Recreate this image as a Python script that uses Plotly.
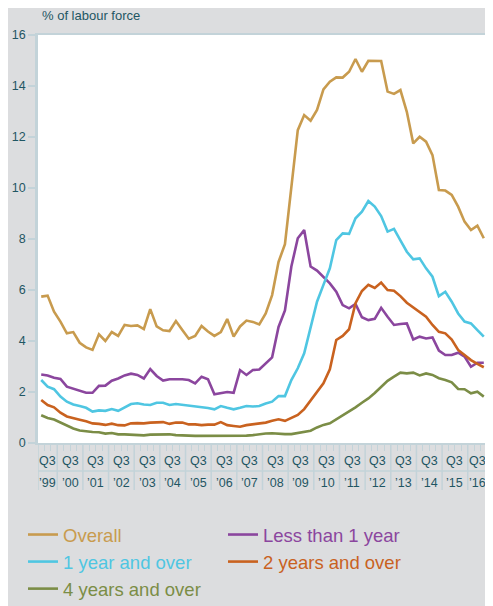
import plotly.graph_objects as go

# ---------------- data ----------------
all_q = [f"{y} Q{q}" for y in range(1999, 2017) for q in range(1, 5)]
quarters = all_q[all_q.index("1999 Q2"): all_q.index("2016 Q3") + 1]

overall = [5.74, 5.78, 5.15, 4.76, 4.30, 4.35, 3.93, 3.75, 3.65, 4.26,
           4.00, 4.35, 4.20, 4.63, 4.59, 4.61, 4.47, 5.25, 4.57, 4.42,
           4.39, 4.78, 4.43, 4.09, 4.20, 4.59, 4.37, 4.20, 4.35, 4.86,
           4.17, 4.57, 4.80, 4.75, 4.65, 5.08, 5.80, 7.10, 7.80, 10.1,
           12.27, 12.86, 12.64, 13.06, 13.87, 14.17, 14.34, 14.33, 14.56, 15.06,
           14.56, 14.99, 14.98, 14.98, 13.78, 13.69, 13.84, 12.99, 11.75, 12.01,
           11.82, 11.29, 9.92, 9.90, 9.73, 9.27, 8.68, 8.35, 8.52, 8.03]

less_than_1 = [2.69, 2.65, 2.56, 2.51, 2.21, 2.13, 2.05, 1.97, 1.97, 2.24,
               2.25, 2.44, 2.53, 2.65, 2.72, 2.67, 2.53, 2.90, 2.63, 2.45,
               2.50, 2.50, 2.50, 2.47, 2.34, 2.60, 2.50, 1.91, 1.97, 2.00,
               1.97, 2.86, 2.67, 2.86, 2.88, 3.12, 3.36, 4.55, 5.20, 6.92,
               8.03, 8.35, 6.92, 6.76, 6.52, 6.26, 5.93, 5.41, 5.28, 5.45,
               4.93, 4.82, 4.87, 5.30, 4.95, 4.63, 4.67, 4.69, 4.06, 4.17,
               4.10, 4.14, 3.62, 3.45, 3.45, 3.54, 3.39, 2.99, 3.15, 3.15]

one_year_plus = [2.47, 2.21, 2.11, 1.82, 1.62, 1.51, 1.45, 1.38, 1.23, 1.28,
                 1.26, 1.33, 1.26, 1.38, 1.53, 1.56, 1.51, 1.49, 1.58, 1.58,
                 1.49, 1.53, 1.50, 1.46, 1.43, 1.40, 1.37, 1.32, 1.45, 1.38,
                 1.32, 1.38, 1.45, 1.43, 1.45, 1.55, 1.62, 1.84, 1.84, 2.47,
                 2.93, 3.52, 4.56, 5.54, 6.20, 6.85, 7.96, 8.22, 8.20, 8.81,
                 9.07, 9.49, 9.27, 8.90, 8.29, 8.40, 7.95, 7.50, 7.20, 7.24,
                 6.85, 6.52, 5.76, 5.93, 5.54, 5.08, 4.76, 4.69, 4.43, 4.17]

two_years_plus = [1.69, 1.49, 1.40, 1.19, 1.04, 0.96, 0.91, 0.85, 0.77, 0.75,
                  0.71, 0.76, 0.70, 0.69, 0.77, 0.78, 0.77, 0.80, 0.81, 0.82,
                  0.75, 0.80, 0.80, 0.73, 0.73, 0.70, 0.72, 0.72, 0.82, 0.70,
                  0.67, 0.64, 0.70, 0.73, 0.76, 0.80, 0.87, 0.93, 0.87, 1.00,
                  1.10, 1.33, 1.66, 1.97, 2.34, 2.89, 4.04, 4.20, 4.46, 5.48,
                  5.96, 6.20, 6.08, 6.29, 6.00, 5.97, 5.76, 5.50, 5.32, 5.15,
                  4.95, 4.63, 4.36, 4.30, 4.06, 3.65, 3.45, 3.25, 3.10, 2.97]

four_years_plus = [1.09, 0.98, 0.92, 0.81, 0.67, 0.57, 0.49, 0.45, 0.43, 0.42,
                   0.37, 0.39, 0.34, 0.34, 0.33, 0.33, 0.30, 0.33, 0.34, 0.34,
                   0.34, 0.31, 0.31, 0.29, 0.28, 0.28, 0.29, 0.29, 0.28, 0.28,
                   0.28, 0.28, 0.29, 0.31, 0.35, 0.37, 0.38, 0.36, 0.35, 0.35,
                   0.39, 0.43, 0.48, 0.61, 0.71, 0.77, 0.93, 1.07, 1.22, 1.40,
                   1.58, 1.75, 1.96, 2.20, 2.44, 2.60, 2.76, 2.73, 2.76, 2.65,
                   2.73, 2.67, 2.54, 2.47, 2.38, 2.12, 2.11, 1.95, 2.01, 1.82]

series_names = ["Overall", "Less than 1 year", "1 year and over",
                "2 years and over", "4 years and over"]
series_values = [overall, less_than_1, one_year_plus, two_years_plus, four_years_plus]
series_colors = ["#c89b4e", "#8b469e", "#4fc6e2", "#c9621f", "#7b8d46"]

quarter_tick_label = "Q3"
y_ticks = [0, 2, 4, 6, 8, 10, 12, 14, 16]

# ---------------- styling ----------------
BG = "#dcdddf"
AXC = "#c3d3d9"
TXT = "#1f5663"
FONT = "Liberation Sans, Arial, sans-serif"

# page body has an 8px margin, so the figure is 8px smaller than the window
W, H = 485, 598
ML, MR, MT, MB = 30, 6, 27, 163
PH = H - MT - MB  # plot height px
PW = W - ML - MR


def py(px_below_bottom):
    """paper y for a pixel offset below the plot bottom"""
    return -px_below_bottom / PH


x = list(range(len(quarters)))

fig = go.Figure()
for name, vals, col in zip(series_names, series_values, series_colors):
    fig.add_trace(go.Scatter(
        x=x, y=vals, mode="lines",
        name=f"<span style='color:{col}'>{name}</span>",
        line=dict(color=col, width=2.6),
        customdata=quarters,
        hovertemplate="%{customdata}: %{y}<extra>" + name + "</extra>",
    ))

# year sections
years = []
for i, q in enumerate(quarters):
    yr = q[:4]
    if not years or years[-1][0] != yr:
        years.append([yr, []])
    years[-1][1].append(i)

boundaries = []
shapes = []
annotations = []
for yr, idx in years:
    lo = idx[0] - 0.5
    boundaries.append(lo)
    centre = (idx[0] + idx[-1]) / 2
    annotations.append(dict(x=centre, xref="x", y=py(17.5), yref="paper",
                            text=quarter_tick_label, showarrow=False,
                            xanchor="center", yanchor="middle",
                            font=dict(size=12.5, color=TXT, family=FONT)))
    annotations.append(dict(x=centre, xref="x", y=py(40), yref="paper",
                            text="\u2019" + yr[2:], showarrow=False,
                            xanchor="center", yanchor="middle",
                            font=dict(size=12.5, color=TXT, family=FONT)))
boundaries.append(years[-1][1][-1] + 0.5)

for b in boundaries:
    shapes.append(dict(type="line", xref="x", yref="paper", x0=b, x1=b,
                       y0=0, y1=py(47), line=dict(color=AXC, width=1.5),
                       layer="below"))
shapes.append(dict(type="line", xref="paper", yref="paper", x0=0, x1=1,
                   y0=py(28), y1=py(28), line=dict(color=AXC, width=1.5)))

minor_ticks = [i + 0.5 for i in x[:-1] if (i + 0.5) not in boundaries]

annotations.append(dict(x=2 / PW, xref="paper", y=(PH + 19) / PH,
                        yref="paper", text="% of labour force", showarrow=False,
                        xanchor="left", yanchor="middle",
                        font=dict(size=13, color=TXT, family=FONT)))

fig.update_layout(
    width=W, height=H,
    margin=dict(l=ML, r=MR, t=MT, b=MB, pad=0, autoexpand=False),
    paper_bgcolor=BG, plot_bgcolor="white",
    font=dict(family=FONT, color=TXT),
    shapes=shapes, annotations=annotations,
    showlegend=True,
    legend=dict(orientation="h", x=-15 / PW, xanchor="left",
                y=py(73), yanchor="top", entrywidth=155,
                entrywidthmode="pixels", itemwidth=30,
                font=dict(size=18.5, family=FONT),
                bgcolor="rgba(0,0,0,0)", traceorder="normal"),
    xaxis=dict(range=[-0.5, len(quarters) - 0.5], tickmode="array",
               tickvals=minor_ticks, ticks="outside", ticklen=6,
               tickcolor=AXC, tickwidth=1, showticklabels=False,
               showline=True, linecolor=AXC, linewidth=1.5, mirror=True,
               showgrid=False, zeroline=False, fixedrange=True),
    yaxis=dict(range=[0, 16], tickmode="array", tickvals=y_ticks,
               ticks="outside", ticklen=7, tickcolor=AXC, tickwidth=1.5,
               tickfont=dict(size=12.5, color=TXT, family=FONT),
               showline=True, linecolor=AXC, linewidth=2.5, mirror=True,
               showgrid=False, zeroline=False, fixedrange=True),
)

fig.write_html("out.html")
